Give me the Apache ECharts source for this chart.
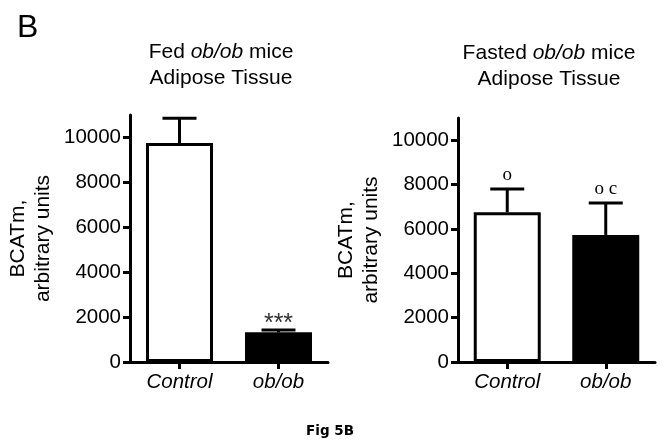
<!DOCTYPE html>
<html>
<head>
<meta charset="utf-8">
<script src="https://cdn.jsdelivr.net/npm/echarts@6/dist/echarts.min.js"></script>
<style>
html,body{margin:0;padding:0;background:#fff;}
#c{width:664px;height:447px;}
</style>
</head>
<body>
<div id="c"></div>
<script>
const categories = ['Control', 'ob/ob'];
const fedMean = [9750, 1320];
const fedSem = [1100, 110];
const fedMarks = ['', '***'];
const fastedMean = [6750, 5730];
const fastedSem = [1050, 1440];
const fastedMarks = ['o', 'o c'];
const yTicks = [0, 2000, 4000, 6000, 8000, 10000];
const yMax = 11000;

const chart = echarts.init(document.getElementById('c'), null, {renderer: 'canvas'});
const SANS = 'Liberation Sans, Arial, sans-serif';
const SERIF = 'Liberation Serif, Times New Roman, serif';

function yAxis(gi) {
  return {
    type: 'value', gridIndex: gi, min: 0, max: yMax, interval: 2000,
    name: 'BCATm,\narbitrary units', nameLocation: 'middle', nameRotate: 90,
    nameGap: 74, nameMoveOverlap: false,
    nameTextStyle: {fontFamily: SANS, fontSize: 21, color: '#000', lineHeight: 25},
    axisLine: {show: true, lineStyle: {color: '#000', width: 3}},
    axisTick: {show: true, length: 7, lineStyle: {color: '#000', width: 3}, customValues: yTicks},
    axisLabel: {fontFamily: SANS, fontSize: 20.5, color: '#000', margin: 9, customValues: yTicks,
      formatter: v => String(v)},
    splitLine: {show: false}
  };
}
function xAxis(gi) {
  return {
    type: 'category', gridIndex: gi, data: categories,
    axisLine: {show: true, lineStyle: {color: '#000', width: 3}},
    axisTick: {show: true, alignWithLabel: true, length: 7, lineStyle: {color: '#000', width: 3}},
    axisLabel: {fontFamily: SANS, fontSize: 20.5, fontStyle: 'italic', color: '#000', margin: 10}
  };
}
function bars(gi, data) {
  return {
    type: 'bar', xAxisIndex: gi, yAxisIndex: gi, barWidth: 67,
    data: data.map((v, i) => ({
      value: v,
      itemStyle: {color: i === 0 ? '#fff' : '#000', borderColor: '#000', borderWidth: 3}
    })),
    silent: true, animation: false
  };
}
function errs(gi, mean, sem, marks) {
  return {
    type: 'custom', xAxisIndex: gi, yAxisIndex: gi, animation: false, silent: true,
    data: mean.map((m, i) => [i, m, sem[i]]),
    renderItem: function (params, api) {
      const i = api.value(0), m = api.value(1), s = api.value(2);
      const mk = marks[i];
      const base = api.coord([i, m]);
      const top = api.coord([i, m + s]);
      const hw = 17;
      const children = [
        {type: 'line', shape: {x1: base[0], y1: base[1], x2: top[0], y2: top[1]}, style: {stroke: '#000', lineWidth: 3}},
        {type: 'line', shape: {x1: top[0] - hw, y1: top[1], x2: top[0] + hw, y2: top[1]}, style: {stroke: '#000', lineWidth: 3}}
      ];
      if (mk === '***') {
        children.push({type: 'text', x: top[0], y: top[1] - 6,
          style: {text: mk, fontFamily: SANS, fontSize: 25, fill: '#333', align: 'center', verticalAlign: 'middle'}});
      } else if (mk) {
        children.push({type: 'text', x: top[0], y: top[1] - 4,
          style: {text: mk, fontFamily: SERIF, fontSize: 19, fill: '#000', align: 'center', verticalAlign: 'bottom'}});
      }
      return {type: 'group', children: children};
    }
  };
}

const titleRich = {
  n: {fontFamily: SANS, fontSize: 21, fill: '#000', lineHeight: 26},
  i: {fontFamily: SANS, fontSize: 21, fontStyle: 'italic', fill: '#000', lineHeight: 26}
};

chart.setOption({
  animation: false,
  backgroundColor: '#fff',
  grid: [
    {left: 130, top: 115, width: 198, height: 247, containLabel: false, outerBoundsMode: 'none'},
    {left: 458, top: 118, width: 197, height: 244, containLabel: false, outerBoundsMode: 'none'}
  ],
  xAxis: [xAxis(0), xAxis(1)],
  yAxis: [yAxis(0), yAxis(1)],
  series: [
    bars(0, fedMean), bars(1, fastedMean),
    errs(0, fedMean, fedSem, fedMarks), errs(1, fastedMean, fastedSem, fastedMarks)
  ],
  graphic: [
    {type: 'text', left: 17, top: 12, style: {text: 'B', fontFamily: SANS, fontSize: 32, fill: '#000'}},
    {type: 'text', x: 221, y: 65, style: {
      text: '{n|Fed }{i|ob/ob}{n| mice}\n{n|Adipose Tissue}', rich: titleRich,
      align: 'center', verticalAlign: 'middle'}},
    {type: 'text', x: 549, y: 66, style: {
      text: '{n|Fasted }{i|ob/ob}{n| mice}\n{n|Adipose Tissue}', rich: titleRich,
      align: 'center', verticalAlign: 'middle'}},
    {type: 'text', x: 330, y: 431, style: {
      text: 'Fig 5B', fontFamily: 'DejaVu Sans, Verdana, sans-serif', fontWeight: 'bold', fontSize: 13.5,
      fill: '#000', align: 'center', verticalAlign: 'middle'}}
  ]
});
</script>
</body>
</html>
